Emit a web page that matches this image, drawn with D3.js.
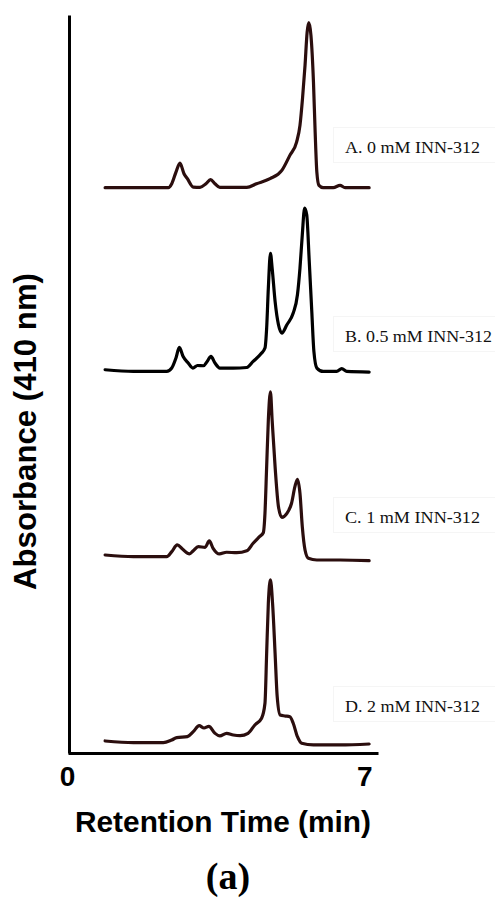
<!DOCTYPE html>
<html>
<head>
<meta charset="utf-8">
<script src="https://cdn.jsdelivr.net/npm/d3@7"></script>
<style>
  body { margin: 0; background: #fff; }
  svg { display: block; }
</style>
</head>
<body>
<div id="chart"></div>
<script>
// retention time (min) and signal above each trace's own baseline (a.u.)
var labels = ['A. 0 mM INN-312', 'B. 0.5 mM INN-312', 'C. 1 mM INN-312', 'D. 2 mM INN-312'];
var offsets = [76.6, 51.7, 26.6, 1.4];
var xTicks = [0, 7];

var traceA = [
  [0.88, 0], [1.55, 0], [2.38, 0], [2.46, 0.54], [2.56, 2.11], [2.655, 3.33],
  [2.75, 1.9], [2.83, 1.22], [2.97, 0.08], [3.13, 0.04], [3.27, 0.54], [3.38, 1.08],
  [3.485, 0.54], [3.6, 0.04], [4.24, 0.04], [4.47, 0.54], [4.79, 1.22], [5.07, 2.34],
  [5.26, 4.38], [5.42, 6.18], [5.5, 8.44], [5.56, 12.06], [5.62, 16.57], [5.67, 21.08],
  [5.71, 22.36], [5.76, 20.64], [5.82, 14.31], [5.86, 7.53], [5.9, 2.11], [5.95, 0.31],
  [6.05, 0], [6.29, 0], [6.45, 0.31], [6.57, 0], [7.14, 0]
];
var traceB = [
  [0.88, 0.23], [1.55, 0], [2.34, 0], [2.46, 0.46], [2.56, 1.82], [2.64, 3.25],
  [2.73, 2.03], [2.85, 1.14], [2.96, 0.46], [3.07, 0.81], [3.21, 0.77], [3.3, 1.36],
  [3.39, 2.03], [3.485, 1.14], [3.6, 0.46], [3.92, 0.46], [4.24, 0.54], [4.39, 1.36],
  [4.57, 2.36], [4.67, 3.17], [4.71, 5.88], [4.75, 11.3], [4.8, 16.0], [4.84, 14.01],
  [4.91, 9.49], [4.99, 6.33], [5.07, 5.2], [5.19, 6.33], [5.34, 7.91], [5.44, 10.39],
  [5.5, 14.01], [5.555, 18.52], [5.61, 22.14], [5.66, 21.23], [5.72, 14.91], [5.78, 8.13],
  [5.83, 2.71], [5.9, 0.46], [6.05, 0], [6.37, 0], [6.49, 0.37], [6.61, 0], [7.14, -0.08]
];
var traceC = [
  [0.88, 0.23], [1.55, 0], [2.34, 0], [2.46, 0.68], [2.59, 1.59], [2.72, 1.0],
  [2.88, 0.37], [2.97, 0.81], [3.09, 1.36], [3.25, 1.27], [3.35, 2.13], [3.44, 1.14],
  [3.59, 0.37], [3.76, 0.6], [4.0, 0.54], [4.24, 0.81], [4.39, 1.82], [4.54, 2.71],
  [4.63, 3.25], [4.67, 5.88], [4.71, 12.2], [4.75, 18.52], [4.8, 22.32], [4.84, 18.52],
  [4.91, 12.2], [4.99, 6.78], [5.07, 5.34], [5.19, 5.88], [5.3, 7.24], [5.38, 9.49],
  [5.44, 10.49], [5.5, 8.59], [5.555, 4.07], [5.62, 0.91], [5.7, -0.22], [5.9, -0.45],
  [6.45, -0.45], [7.14, -0.54]
];
var traceD = [
  [0.88, 0.23], [1.55, 0], [2.26, 0], [2.46, 0.37], [2.58, 0.68], [2.83, 0.81],
  [2.97, 1.49], [3.11, 2.3], [3.225, 1.99], [3.34, 2.22], [3.485, 1.27], [3.6, 0.91],
  [3.76, 1.27], [3.92, 1.04], [4.08, 0.95], [4.27, 1.27], [4.43, 2.4], [4.59, 3.31],
  [4.67, 5.34], [4.71, 12.11], [4.75, 18.89], [4.8, 22.05], [4.85, 18.89], [4.91, 12.11],
  [4.96, 6.23], [5.03, 3.75], [5.14, 3.62], [5.26, 3.52], [5.34, 2.63], [5.44, 0.81],
  [5.54, -0.08], [5.82, -0.31], [6.45, -0.31], [7.14, -0.18]
];
var traces = [traceA, traceB, traceC, traceD];
var colors = ['#2b0e0e', '#000000', '#2b0e0e', '#2b0e0e'];

var width = 495, height = 899;
var margin = { top: 15, left: 68, right: 117, bottom: 146 };

var svg = d3.select('#chart').append('svg')
  .attr('width', width)
  .attr('height', height);

var x = d3.scaleLinear()
  .domain([0, 7.35])
  .range([margin.left, width - margin.right]);
var y = d3.scaleLinear()
  .domain([0, 100])
  .range([height - margin.bottom, margin.top]);

// axes
var xAxis = svg.append('g')
  .attr('transform', 'translate(0,' + y(0) + ')')
  .call(d3.axisBottom(x).tickValues(xTicks).tickSize(0).tickSizeOuter(0).tickPadding(13));
xAxis.select('.domain')
  .attr('stroke', '#000')
  .attr('stroke-width', 3);
xAxis.selectAll('text')
  .attr('font-family', 'Liberation Sans, Arial, sans-serif')
  .attr('font-weight', 'bold')
  .attr('font-size', 28)
  .attr('fill', '#000')
  .attr('dx', function (d) { return d === 0 ? -1 : 1; });

var yAxis = svg.append('g')
  .attr('transform', 'translate(' + (x(0) + 1) + ',0)')
  .call(d3.axisLeft(y).tickValues([]).tickSizeOuter(0));
yAxis.select('.domain')
  .attr('stroke', '#000')
  .attr('stroke-width', 3);

// traces
var line = d3.line().curve(d3.curveMonotoneX);
traces.forEach(function (trace, i) {
  line
    .x(function (d) { return x(d[0]); })
    .y(function (d) { return y(d[1] + offsets[i]); });
  svg.append('path')
    .datum(trace)
    .attr('fill', 'none')
    .attr('stroke', colors[i])
    .attr('stroke-width', 3.2)
    .attr('stroke-linejoin', 'round')
    .attr('stroke-linecap', 'round')
    .attr('d', line);
});

// trace labels
var labelBase = [153, 342, 523, 712];
var labelWidth = [135, 147, 135, 135];
labels.forEach(function (t, i) {
  svg.append('rect')
    .attr('x', 333.5)
    .attr('y', labelBase[i] - 25.5)
    .attr('width', 162)
    .attr('height', 35)
    .attr('fill', 'none')
    .attr('stroke', '#f5f5f5')
    .attr('stroke-width', 1);
  svg.append('text')
    .attr('x', 345)
    .attr('y', labelBase[i])
    .attr('font-family', 'Liberation Serif, Times New Roman, serif')
    .attr('font-size', 17)
    .attr('fill', '#111')
    .attr('textLength', labelWidth[i])
    .attr('lengthAdjust', 'spacingAndGlyphs')
    .text(t);
});

// axis titles
svg.append('text')
  .attr('transform', 'translate(36,431.5) rotate(-90)')
  .attr('text-anchor', 'middle')
  .attr('font-family', 'Liberation Sans, Arial, sans-serif')
  .attr('font-weight', 'bold')
  .attr('font-size', 31)
  .attr('textLength', 317)
  .attr('lengthAdjust', 'spacingAndGlyphs')
  .text('Absorbance (410 nm)');

svg.append('text')
  .attr('x', 75)
  .attr('y', 832)
  .attr('font-family', 'Liberation Sans, Arial, sans-serif')
  .attr('font-weight', 'bold')
  .attr('font-size', 30)
  .attr('textLength', 296)
  .attr('lengthAdjust', 'spacingAndGlyphs')
  .text('Retention Time (min)');

svg.append('text')
  .attr('x', 228)
  .attr('y', 889)
  .attr('text-anchor', 'middle')
  .attr('font-family', 'Liberation Serif, Times New Roman, serif')
  .attr('font-weight', 'bold')
  .attr('font-size', 38)
  .text('(a)');
</script>
</body>
</html>
